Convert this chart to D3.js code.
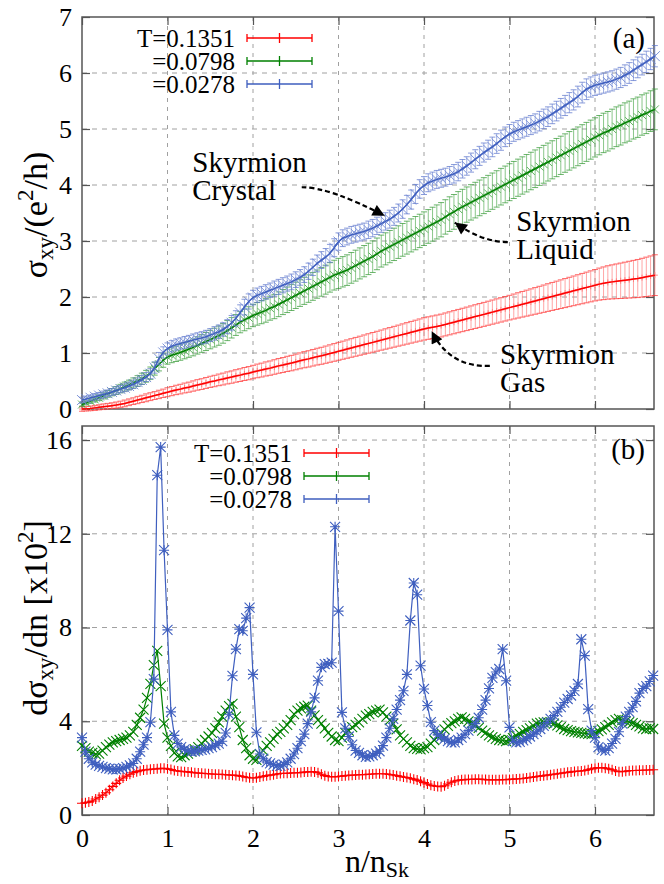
<!DOCTYPE html>
<html>
<head>
<meta charset="utf-8">
<script src="https://cdn.jsdelivr.net/npm/d3@7"></script>
<style>
body { margin: 0; background: #fff; }
svg text { font-family: "Liberation Serif", serif; fill: #000; }
</style>
</head>
<body>
<div id="chart"></div>
<script>
// sample spacing along n/n_Sk
const stepA = 0.05;
const stepB = 0.04;

const xTicks  = [0, 1, 2, 3, 4, 5, 6];
const yTicksA = [0, 1, 2, 3, 4, 5, 6, 7];
const yTicksB = [0, 4, 8, 12, 16];
const labels  = ['T=0.1351', '=0.0798', '=0.0278'];

// panel (a): sigma_xy and its error
const redA = [0,0.005,0.01,0.02,0.03,0.04,0.05,0.06,0.07,0.085,0.10,0.12,0.14,0.16,0.18,0.20,0.22,0.24,0.26,0.28,0.30,
	0.32,0.34,0.355,0.375,0.39,0.41,0.43,0.445,0.465,0.485,0.50,0.52,0.535,0.555,0.57,0.59,0.605,0.625,0.64,0.66,
	0.68,0.695,0.715,0.73,0.75,0.77,0.785,0.805,0.82,0.84,0.86,0.88,0.895,0.915,0.935,0.95,0.97,0.99,1.01,1.03,
	1.05,1.07,1.09,1.11,1.13,1.15,1.17,1.19,1.21,1.23,1.25,1.27,1.29,1.31,1.33,1.35,1.37,1.39,1.41,1.43,
	1.445,1.46,1.475,1.49,1.51,1.53,1.55,1.57,1.59,1.61,1.63,1.65,1.67,1.69,1.71,1.73,1.75,1.77,1.79,1.81,
	1.83,1.85,1.87,1.89,1.91,1.93,1.95,1.97,1.99,2.01,2.03,2.05,2.07,2.09,2.11,2.13,2.15,2.17,2.19,2.21,
	2.23,2.245,2.26,2.27,2.28,2.29,2.30,2.31,2.32,2.33,2.345,2.36,2.375,2.39];
const redAErr = [0.04,0.04,0.04,0.045,0.045,0.05,0.05,0.05,0.055,0.055,0.06,0.06,0.06,0.065,0.065,0.07,0.07,0.07,0.075,0.075,0.08,
	0.082,0.084,0.086,0.088,0.09,0.092,0.094,0.096,0.098,0.10,0.102,0.104,0.106,0.108,0.11,0.112,0.114,0.116,0.118,0.12,
	0.122,0.124,0.126,0.128,0.13,0.132,0.134,0.136,0.138,0.14,0.142,0.144,0.146,0.148,0.15,0.152,0.154,0.156,0.158,0.16,
	0.162,0.164,0.166,0.168,0.17,0.172,0.174,0.176,0.178,0.18,0.182,0.184,0.186,0.188,0.19,0.192,0.194,0.196,0.198,0.2,
	0.201,0.202,0.203,0.204,0.205,0.206,0.207,0.208,0.209,0.21,0.211,0.212,0.213,0.214,0.215,0.216,0.217,0.218,0.219,0.22,
	0.223,0.226,0.229,0.232,0.235,0.238,0.241,0.244,0.247,0.25,0.253,0.256,0.259,0.262,0.265,0.268,0.271,0.274,0.277,0.28,
	0.286,0.292,0.298,0.304,0.31,0.316,0.322,0.328,0.334,0.34,0.346,0.352,0.358,0.364];
const greenA = [0.08,0.11,0.14,0.17,0.20,0.235,0.27,0.30,0.33,0.365,0.40,0.43,0.465,0.50,0.54,0.585,0.64,0.72,0.80,0.87,0.93,
	0.96,0.985,1.01,1.04,1.07,1.10,1.135,1.17,1.205,1.24,1.275,1.31,1.35,1.40,1.45,1.50,1.55,1.59,1.63,1.67,
	1.70,1.73,1.76,1.80,1.83,1.87,1.91,1.95,1.99,2.03,2.07,2.11,2.15,2.19,2.23,2.27,2.31,2.35,2.39,2.42,
	2.45,2.48,2.52,2.56,2.60,2.64,2.68,2.72,2.77,2.82,2.86,2.90,2.94,2.98,3.02,3.06,3.10,3.14,3.18,3.22,
	3.26,3.30,3.34,3.38,3.43,3.48,3.52,3.57,3.61,3.65,3.69,3.73,3.77,3.81,3.85,3.89,3.93,3.97,4.01,4.05,
	4.09,4.13,4.17,4.21,4.25,4.29,4.33,4.37,4.41,4.45,4.49,4.53,4.57,4.61,4.65,4.69,4.73,4.77,4.81,4.85,
	4.89,4.93,4.96,5.0,5.04,5.07,5.11,5.14,5.18,5.21,5.25,5.28,5.32,5.35];
const greenAErr = [0.03,0.035,0.04,0.045,0.05,0.055,0.06,0.065,0.07,0.075,0.08,0.085,0.09,0.095,0.10,0.105,0.11,0.115,0.12,0.125,0.13,
	0.133,0.137,0.14,0.144,0.147,0.151,0.154,0.158,0.161,0.165,0.168,0.172,0.175,0.179,0.182,0.186,0.189,0.193,0.196,0.2,
	0.203,0.207,0.21,0.214,0.217,0.221,0.224,0.228,0.231,0.235,0.238,0.242,0.245,0.249,0.252,0.256,0.259,0.263,0.266,0.27,
	0.271,0.273,0.274,0.276,0.277,0.279,0.28,0.282,0.283,0.285,0.286,0.288,0.289,0.291,0.292,0.294,0.295,0.297,0.298,0.3,
	0.301,0.303,0.304,0.306,0.307,0.309,0.31,0.312,0.313,0.315,0.316,0.318,0.319,0.321,0.322,0.324,0.325,0.327,0.328,0.33,
	0.331,0.332,0.333,0.334,0.335,0.336,0.337,0.338,0.339,0.34,0.341,0.342,0.343,0.344,0.345,0.346,0.347,0.348,0.349,0.35,
	0.351,0.352,0.353,0.354,0.355,0.356,0.357,0.358,0.359,0.36,0.361,0.362,0.363,0.364];
const blueA = [0.16,0.18,0.20,0.22,0.24,0.26,0.28,0.305,0.33,0.355,0.38,0.41,0.44,0.48,0.52,0.57,0.63,0.74,0.90,1.01,1.08,
	1.12,1.15,1.17,1.19,1.21,1.23,1.25,1.27,1.29,1.32,1.35,1.38,1.42,1.47,1.54,1.62,1.72,1.82,1.92,1.99,
	2.03,2.06,2.09,2.12,2.15,2.18,2.21,2.24,2.27,2.31,2.35,2.40,2.46,2.53,2.60,2.66,2.71,2.78,2.88,2.99,
	3.05,3.08,3.11,3.13,3.15,3.17,3.20,3.23,3.27,3.31,3.35,3.39,3.44,3.50,3.57,3.65,3.74,3.84,3.93,3.99,
	4.04,4.07,4.10,4.12,4.14,4.17,4.20,4.24,4.29,4.34,4.40,4.46,4.52,4.58,4.63,4.68,4.74,4.80,4.86,4.91,
	4.95,4.98,5.01,5.04,5.07,5.10,5.14,5.18,5.22,5.27,5.32,5.37,5.42,5.47,5.52,5.58,5.65,5.71,5.75,5.78,
	5.80,5.82,5.84,5.86,5.89,5.92,5.96,6.00,6.05,6.10,6.15,6.20,6.25,6.30];
const blueAErr = [0.05,0.05,0.05,0.055,0.055,0.06,0.06,0.06,0.065,0.065,0.07,0.07,0.075,0.075,0.08,0.08,0.09,0.1,0.11,0.1,0.1,
	0.1,0.1,0.1,0.105,0.105,0.11,0.11,0.11,0.115,0.115,0.12,0.12,0.12,0.125,0.13,0.135,0.14,0.14,0.135,0.13,
	0.13,0.13,0.13,0.13,0.135,0.135,0.135,0.135,0.14,0.14,0.14,0.14,0.145,0.145,0.15,0.15,0.155,0.16,0.16,0.155,
	0.15,0.15,0.15,0.15,0.15,0.15,0.155,0.155,0.155,0.155,0.155,0.16,0.16,0.16,0.165,0.165,0.17,0.17,0.165,0.16,
	0.16,0.16,0.16,0.16,0.16,0.16,0.165,0.165,0.165,0.165,0.17,0.17,0.17,0.17,0.17,0.175,0.175,0.18,0.175,0.17,
	0.17,0.17,0.17,0.17,0.17,0.17,0.175,0.175,0.175,0.175,0.175,0.175,0.18,0.18,0.18,0.185,0.185,0.185,0.18,0.18,
	0.18,0.18,0.18,0.18,0.18,0.18,0.185,0.185,0.185,0.185,0.185,0.19,0.19,0.19];

// panel (b): d sigma_xy / dn  [x10^2]
const redB = [0.5,0.52,0.55,0.6,0.68,0.76,0.85,0.95,1.08,1.22,1.35,1.48,1.58,1.66,1.74,1.8,1.85,1.89,1.92,1.93,
	1.95,1.96,1.97,1.99,1.99,1.97,1.94,1.9,1.88,1.86,1.85,1.84,1.82,1.8,1.79,1.78,1.77,1.76,1.75,1.74,
	1.74,1.73,1.72,1.71,1.7,1.69,1.67,1.64,1.61,1.59,1.58,1.59,1.62,1.65,1.68,1.7,1.72,1.75,1.77,1.78,
	1.78,1.79,1.8,1.8,1.81,1.83,1.84,1.85,1.84,1.8,1.74,1.68,1.64,1.63,1.63,1.64,1.66,1.68,1.69,1.7,
	1.71,1.72,1.72,1.73,1.74,1.75,1.76,1.76,1.76,1.75,1.73,1.71,1.68,1.65,1.62,1.6,1.57,1.53,1.49,1.44,
	1.38,1.32,1.27,1.24,1.22,1.21,1.25,1.32,1.4,1.45,1.48,1.5,1.51,1.52,1.52,1.53,1.53,1.52,1.51,1.5,
	1.5,1.5,1.5,1.51,1.51,1.52,1.53,1.54,1.55,1.56,1.58,1.6,1.62,1.64,1.66,1.68,1.7,1.72,1.74,1.76,
	1.78,1.8,1.82,1.84,1.86,1.87,1.88,1.9,1.93,1.97,2.0,2.02,2.02,2.0,1.97,1.93,1.88,1.85,1.85,1.87,
	1.89,1.9,1.9,1.91,1.91,1.92,1.92,1.93];
const greenB = [2.95,2.85,2.7,2.65,2.6,2.62,2.75,2.9,3.0,3.1,3.15,3.2,3.25,3.3,3.4,3.55,3.85,4.15,4.5,5.0,
	5.6,6.4,7.0,5.5,3.9,3.3,2.95,2.65,2.5,2.47,2.55,2.62,2.7,2.8,2.9,3.05,3.2,3.35,3.5,3.7,
	3.95,4.2,4.45,4.65,4.74,4.2,3.75,3.2,2.85,2.55,2.4,2.35,2.6,2.75,2.95,3.1,3.25,3.45,3.55,3.7,
	3.85,4.05,4.3,4.45,4.55,4.62,4.67,4.45,4.25,4.05,3.9,3.7,3.5,3.35,3.2,3.15,3.3,3.5,3.6,3.75,
	3.85,3.95,4.1,4.24,4.3,4.4,4.45,4.5,4.38,4.2,4.05,3.9,3.65,3.4,3.25,3.1,2.95,2.85,2.82,2.8,
	2.85,2.9,3.05,3.2,3.35,3.5,3.65,3.8,3.92,4.0,4.1,4.17,4.1,4.0,3.92,3.82,3.72,3.6,3.5,3.4,
	3.32,3.25,3.2,3.18,3.15,3.2,3.28,3.38,3.46,3.55,3.62,3.7,3.8,3.9,3.93,3.95,3.96,3.96,3.9,3.82,
	3.75,3.67,3.62,3.58,3.55,3.53,3.5,3.48,3.46,3.45,3.5,3.58,3.65,3.75,3.85,3.95,4.05,4.1,4.05,4.0,
	3.96,3.92,3.85,3.78,3.7,3.67,3.7,3.67];
const blueB = [3.3,2.7,2.4,2.25,2.15,2.1,2.05,2.0,1.98,1.95,1.95,1.97,2.0,2.05,2.12,2.2,2.4,2.7,3.0,3.3,
	3.96,5.8,14.5,15.7,11.3,7.9,4.4,3.4,3.05,2.9,2.8,2.75,2.72,2.72,2.75,2.78,2.8,2.85,2.9,2.98,
	3.05,3.15,3.5,4.3,5.94,7.08,7.93,7.86,8.4,8.85,6.0,3.53,2.6,2.4,2.26,2.2,2.15,2.1,2.1,2.15,
	2.25,2.4,2.6,2.85,3.15,3.45,3.9,4.4,5.0,5.73,6.3,6.44,6.45,6.5,12.3,8.7,4.38,3.7,3.35,3.0,
	2.75,2.65,2.55,2.48,2.5,2.55,2.62,2.72,2.96,3.3,3.7,4.1,4.5,4.9,5.3,6.0,8.3,9.9,9.4,6.37,
	5.38,4.67,3.96,3.6,3.42,3.35,3.25,3.15,3.1,3.1,3.2,3.3,3.45,3.6,3.75,3.9,4.15,4.5,4.9,5.4,
	5.85,6.1,6.23,7.08,5.73,3.74,3.15,3.1,3.12,3.18,3.25,3.35,3.45,3.55,3.67,3.8,3.95,4.1,4.24,4.4,
	4.6,4.8,4.95,5.1,5.3,5.59,7.5,6.8,4.52,3.6,3.3,2.9,2.78,2.75,2.85,3.05,3.25,3.55,3.9,4.2,
	4.4,4.6,4.85,5.2,5.4,5.5,5.7,5.95];

const colors = ['#ff0000', '#008000', '#3f5fbf'];
const light  = ['#ff7a7a', '#50aa50', '#7088d4'];
const edge   = ['#ff3030', '#2f962f', '#5a74cc'];

const width = 664, height = 884;
const svg = d3.select('#chart').append('svg')
	.attr('width', width)
	.attr('height', height);

const x  = d3.scaleLinear().domain([0, 6.69]).range([82, 654]);
const yA = d3.scaleLinear().domain([0, 7]).range([409, 17]);
const yB = d3.scaleLinear().domain([0, 16.6]).range([815, 426]);

function toPoints(vals, step, err) {
	return vals.map((v, i) => ({ x: i * step, y: v, e: err ? err[i] : 0 }));
}

function glyph(type, cx, cy, s) {
	let p = '';
	if (type == '+' || type == '*') { p += `M${cx - s},${cy}h${2 * s}M${cx},${cy - s}v${2 * s}`; }
	if (type == 'x' || type == '*') { p += `M${cx - s},${cy - s}l${2 * s},${2 * s}M${cx - s},${cy + s}l${2 * s},${-2 * s}`; }
	return p;
}

function drawFrame(y, yTicks, showX) {
	let g = svg.append('g');
	let [y0, y1] = y.range();

	// dashed grid
	g.append('g').selectAll('line')
		.data(xTicks.filter((t) => t > 0))
		.enter().append('line')
		.attr('x1', (t) => x(t)).attr('x2', (t) => x(t))
		.attr('y1', y1).attr('y2', y0)
		.attr('stroke', '#a0a0a0').attr('stroke-width', 1).attr('stroke-dasharray', '4,5');
	g.append('g').selectAll('line')
		.data(yTicks.filter((t) => y(t) > y1 + 1 && y(t) < y0 - 1))
		.enter().append('line')
		.attr('x1', x.range()[0]).attr('x2', x.range()[1])
		.attr('y1', (t) => y(t)).attr('y2', (t) => y(t))
		.attr('stroke', '#a0a0a0').attr('stroke-width', 1).attr('stroke-dasharray', '5,5');

	let axes = [
		d3.axisBottom(x).tickValues(xTicks).tickSizeInner(-8).tickSizeOuter(0).tickPadding(14).tickFormat(showX ? d3.format('d') : ''),
		d3.axisTop(x).tickValues(xTicks).tickSizeInner(-8).tickSizeOuter(0).tickFormat(''),
		d3.axisLeft(y).tickValues(yTicks).tickSizeInner(-8).tickSizeOuter(0).tickPadding(10).tickFormat(d3.format('d')),
		d3.axisRight(y).tickValues(yTicks).tickSizeInner(-8).tickSizeOuter(0).tickFormat('')
	];
	let shifts = [`translate(0,${y0})`, `translate(0,${y1})`, `translate(${x.range()[0]},0)`, `translate(${x.range()[1]},0)`];
	axes.forEach((a, i) => {
		let ag = g.append('g').attr('transform', shifts[i]).call(a);
		ag.attr('font-family', null).attr('font-size', null);
		ag.select('.domain').remove();
		ag.selectAll('line').attr('stroke', '#555').attr('stroke-width', 1.2);
		ag.selectAll('text').attr('font-size', 26).attr('fill', '#000');
	});

	g.append('rect')
		.attr('x', x.range()[0]).attr('y', y1)
		.attr('width', x.range()[1] - x.range()[0]).attr('height', y0 - y1)
		.attr('fill', 'none').attr('stroke', '#555').attr('stroke-width', 1.5);
}

function drawSeriesA(pts, k, type, s) {
	let g = svg.append('g');
	// error bars, then their caps
	g.append('path')
		.attr('d', pts.map((o) => `M${x(o.x)},${yA(o.y - o.e)}V${yA(o.y + o.e)}`).join(''))
		.attr('stroke', light[k]).attr('stroke-width', 0.8).attr('fill', 'none').attr('opacity', 0.85);
	g.append('path')
		.attr('d', pts.map((o) => `M${x(o.x) - 3},${yA(o.y - o.e)}h6M${x(o.x) - 3},${yA(o.y + o.e)}h6`).join(''))
		.attr('stroke', edge[k]).attr('stroke-width', 0.9).attr('fill', 'none').attr('opacity', 0.8);
	g.append('path')
		.attr('d', pts.map((o) => glyph(type, x(o.x), yA(o.y), s)).join(''))
		.attr('stroke', light[k]).attr('stroke-width', 1).attr('fill', 'none').attr('opacity', 0.9);
	g.append('path')
		.datum(pts)
		.attr('d', d3.line().x((o) => x(o.x)).y((o) => yA(o.y)))
		.attr('stroke', colors[k]).attr('stroke-width', 1.5).attr('fill', 'none');
}

function drawSeriesB(pts, k, type, s) {
	let g = svg.append('g');
	g.append('path')
		.datum(pts)
		.attr('d', d3.line().x((o) => x(o.x)).y((o) => yB(o.y)))
		.attr('stroke', colors[k]).attr('stroke-width', 1.2).attr('fill', 'none');
	g.append('path')
		.attr('d', pts.map((o) => glyph(type, x(o.x), yB(o.y), s)).join(''))
		.attr('stroke', colors[k]).attr('stroke-width', 1.1).attr('fill', 'none');
}

function drawLegend(textX, rowY, lx0, lx1) {
	let g = svg.append('g');
	labels.forEach((t, k) => {
		let cy = rowY[k];
		g.append('text')
			.attr('x', textX).attr('y', cy).attr('dy', '0.35em')
			.attr('text-anchor', 'end').attr('font-size', 25)
			.text(t);
		g.append('path')
			.attr('d', `M${lx0},${cy}H${lx1}M${lx0},${cy - 4}v8M${lx1},${cy - 4}v8` + glyph('+', (lx0 + lx1) / 2, cy, 5))
			.attr('stroke', colors[k]).attr('stroke-width', 1.3).attr('fill', 'none');
	});
}

drawFrame(yA, yTicksA, false);
drawFrame(yB, yTicksB, true);

drawSeriesA(toPoints(redA, stepA, redAErr), 0, '+', 3);
drawSeriesA(toPoints(greenA, stepA, greenAErr), 1, 'x', 4);
drawSeriesA(toPoints(blueA, stepA, blueAErr), 2, 'x', 5);

drawSeriesB(toPoints(redB, stepB), 0, '+', 5);
drawSeriesB(toPoints(greenB, stepB), 1, 'x', 5);
drawSeriesB(toPoints(blueB, stepB), 2, '*', 5);

drawLegend(235, [38, 61, 84], 247, 312);
drawLegend(292, [453, 476, 499], 304, 369);

// panel tags
svg.append('text').attr('x', 645).attr('y', 48).attr('text-anchor', 'end').attr('font-size', 29).text('(a)');
svg.append('text').attr('x', 645).attr('y', 459).attr('text-anchor', 'end').attr('font-size', 29).text('(b)');

// annotations in data coordinates of panel (a)
const notes = [
	{ lines: ['Skyrmion', 'Crystal'], at: [1.29, 4.23], from: [2.57, 3.96], ctrl: [2.9, 3.96], to: [3.54, 3.45] },
	{ lines: ['Skyrmion', 'Liquid'],  at: [5.08, 3.17], from: [4.98, 2.98], ctrl: [4.68, 2.98], to: [4.36, 3.33] },
	{ lines: ['Skyrmion', 'Gas'],     at: [4.89, 0.80], from: [4.77, 0.77], ctrl: [4.3, 0.74], to: [4.09, 1.39] }
];

svg.append('defs').append('marker')
	.attr('id', 'head').attr('viewBox', '0 0 10 10')
	.attr('refX', 10).attr('refY', 5)
	.attr('markerWidth', 17).attr('markerHeight', 12)
	.attr('markerUnits', 'userSpaceOnUse')
	.attr('orient', 'auto')
	.append('path').attr('d', 'M0,0L10,5L0,10z').attr('fill', '#000');

notes.forEach((n) => {
	let t = svg.append('text')
		.attr('x', x(n.at[0])).attr('y', yA(n.at[1]))
		.attr('font-size', 29);
	n.lines.forEach((s, i) => {
		t.append('tspan').attr('x', x(n.at[0])).attr('dy', i == 0 ? 0 : 28).text(s);
	});
	svg.append('path')
		.attr('d', `M${x(n.from[0])},${yA(n.from[1])}Q${x(n.ctrl[0])},${yA(n.ctrl[1])} ${x(n.to[0])},${yA(n.to[1])}`)
		.attr('fill', 'none').attr('stroke', '#000').attr('stroke-width', 2.2)
		.attr('stroke-dasharray', '5,3')
		.attr('marker-end', 'url(#head)');
});

// axis titles
let ta = svg.append('text').attr('transform', 'translate(47,215) rotate(-90)')
	.attr('text-anchor', 'middle').attr('font-size', 34);
ta.append('tspan').text('σ');
ta.append('tspan').attr('font-size', 23).attr('dy', 6).text('xy');
ta.append('tspan').attr('dy', -6).text('/(e');
ta.append('tspan').attr('font-size', 23).attr('dy', -14).text('2');
ta.append('tspan').attr('dy', 14).text('/h)');

let tb = svg.append('text').attr('transform', 'translate(47,618) rotate(-90)')
	.attr('text-anchor', 'middle').attr('font-size', 34);
tb.append('tspan').text('dσ');
tb.append('tspan').attr('font-size', 23).attr('dy', 6).text('xy');
tb.append('tspan').attr('dy', -6).text('/dn [x10');
tb.append('tspan').attr('font-size', 23).attr('dy', -14).text('2');
tb.append('tspan').attr('dy', 14).text(']');

let tx = svg.append('text').attr('x', 377).attr('y', 872)
	.attr('text-anchor', 'middle').attr('font-size', 32);
tx.append('tspan').text('n/n');
tx.append('tspan').attr('font-size', 22).attr('dy', 5).text('Sk');
</script>
</body>
</html>
